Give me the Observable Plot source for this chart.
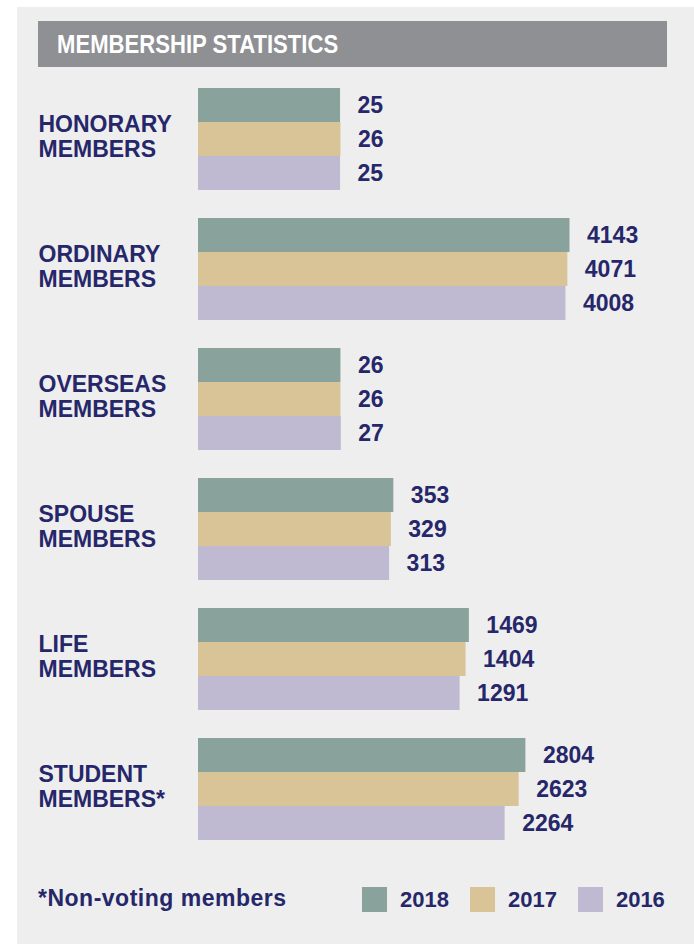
<!DOCTYPE html>
<html>
<head>
<meta charset="utf-8">
<script src="https://cdn.jsdelivr.net/npm/d3@7"></script>
<script src="https://cdn.jsdelivr.net/npm/@observablehq/plot@0.6"></script>
<style>
  html, body { margin: 0; padding: 0; background: #ffffff; }
  body { width: 694px; height: 944px; overflow: hidden; position: relative;
         font-family: "Liberation Sans", Arial, sans-serif; }
  #panel { position: absolute; left: 17px; top: 7px; width: 677px; height: 937px; background: #eeeeee; }
  #header { position: absolute; left: 38px; top: 21px; width: 629px; height: 46px; background: #8f9094; }
  #title { position: absolute; left: 57px; top: 31px; color: #ffffff; font-weight: bold;
           font-size: 26px; line-height: 26px; white-space: nowrap;
           transform: scaleX(0.85); transform-origin: left center; }
  #chart { position: absolute; left: 0; top: 0; }
  #note { position: absolute; left: 38px; top: 887px; font-size: 23px; line-height: 22px;
          font-weight: bold; color: #26276a; white-space: nowrap; letter-spacing: 0.5px; }
  #legend { position: absolute; left: 362px; top: 887px; display: flex; align-items: center; }
  #legend .sw { width: 25px; height: 25px; margin-right: 13px; }
  #legend .lb { font-size: 22px; line-height: 22px; font-weight: bold; color: #26276a; margin-right: 21px; }
</style>
</head>
<body>
<div id="panel"></div>
<div id="header"></div>
<div id="title">MEMBERSHIP STATISTICS</div>
<div id="chart"></div>
<div id="note">*Non-voting members</div>
<div id="legend"></div>
<script>
// ---- data ----
const categories = [
  "HONORARY\nMEMBERS",
  "ORDINARY\nMEMBERS",
  "OVERSEAS\nMEMBERS",
  "SPOUSE\nMEMBERS",
  "LIFE\nMEMBERS",
  "STUDENT\nMEMBERS*"
];
const years = ["2018", "2017", "2016"];
const values2018 = [25, 4143, 26, 353, 1469, 2804];
const values2017 = [26, 4071, 26, 329, 1404, 2623];
const values2016 = [25, 4008, 27, 313, 1291, 2264];
const yearColors = ["#8aa29c", "#d9c497", "#bfbad1"];

const seriesByYear = {"2018": values2018, "2017": values2017, "2016": values2016};
const rows = [];
categories.forEach((c, i) => {
  years.forEach(y => rows.push({category: c, year: y, value: seriesByYear[y][i]}));
});

// scale baseline (the original draws bars on a compressed, offset scale)
const xBase = -1008;
const navy = "#26276a";
const font = "'Liberation Sans', Arial, sans-serif";

const chart = Plot.plot({
  width: 694,
  height: 870,
  marginLeft: 198,
  marginRight: 114,
  marginTop: 74,
  marginBottom: 16,
  style: {background: "transparent", fontFamily: font},
  x: {type: "sqrt", domain: [xBase, 4500], axis: null},
  y: {domain: years, padding: 0, axis: null},
  fy: {domain: categories, paddingInner: 0.2, paddingOuter: 0.1, axis: null},
  color: {domain: years, range: yearColors},
  marks: [
    Plot.barX(rows, {x1: () => xBase, x2: "value", y: "year", fy: "category", fill: "year"}),
    Plot.text(rows, {
      x: "value", y: "year", fy: "category", text: d => String(d.value),
      textAnchor: "start", dx: 17, fontSize: 23, fontWeight: "bold", fill: navy, fontFamily: font
    }),
    Plot.text(categories, {
      fy: d => d, text: d => d, frameAnchor: "left", textAnchor: "start",
      dx: -160, dy: -3, lineHeight: 1.09, fontSize: 23, fontWeight: "bold", fill: navy, fontFamily: font
    })
  ]
});
document.getElementById("chart").appendChild(chart);

// legend
const legend = document.getElementById("legend");
years.forEach((y, i) => {
  const sw = document.createElement("div");
  sw.className = "sw";
  sw.style.background = yearColors[i];
  const lb = document.createElement("div");
  lb.className = "lb";
  lb.textContent = y;
  legend.appendChild(sw);
  legend.appendChild(lb);
});
</script>
</body>
</html>
